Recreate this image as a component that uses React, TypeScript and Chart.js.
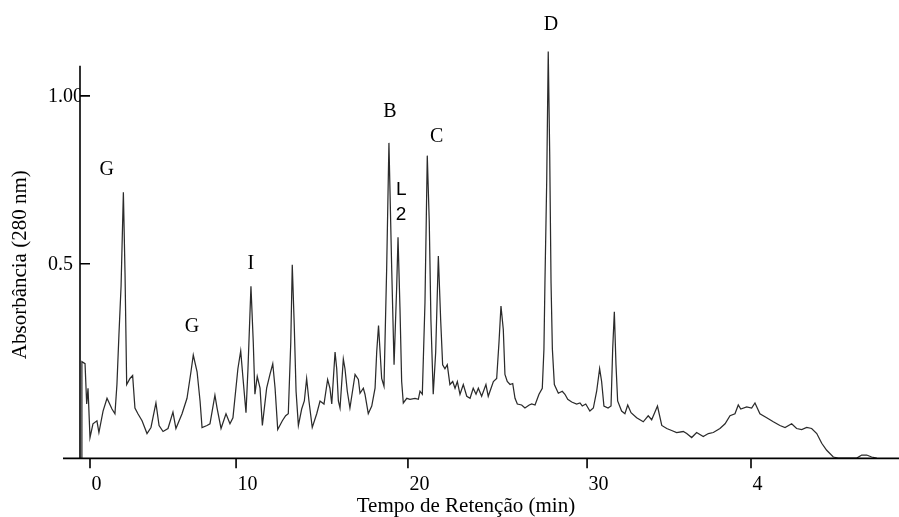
import React, { useEffect, useRef } from "react";
import { Chart, registerables } from "chart.js";

Chart.register(...registerables);

// Retention time (min) and absorbance (280 nm)
const retentionTime: number[] = [
  -0.50, -0.49, -0.30, -0.20, -0.12, 0.00, 0.18, 0.42, 0.54, 0.79,
  1.03, 1.33, 1.51, 1.63, 1.75, 1.88, 2.02, 2.12, 2.22, 2.42,
  2.58, 2.72, 2.90, 3.15, 3.45, 3.69, 3.99, 4.18, 4.42, 4.72,
  5.02, 5.20, 5.57, 5.87, 6.11, 6.25, 6.48, 6.66, 6.78, 7.08,
  7.26, 7.56, 7.69, 7.93, 8.23, 8.47, 8.65, 8.95, 9.12, 9.26,
  9.44, 9.56, 9.74, 9.88, 9.98, 10.12, 10.29, 10.43, 10.69, 10.89,
  11.06, 11.20, 11.36, 11.64, 11.84, 12.00, 12.15, 12.24, 12.36, 12.47,
  12.61, 12.81, 12.97, 13.11, 13.25, 13.45, 13.72, 13.92, 14.16, 14.38,
  14.52, 14.63, 14.83, 14.93, 15.03, 15.13, 15.33, 15.43, 15.57, 15.73,
  16.04, 16.24, 16.34, 16.54, 16.64, 16.84, 17.05, 17.25, 17.35, 17.46,
  17.65, 17.79, 17.95, 18.09, 18.26, 18.40, 18.56, 18.64, 18.76, 18.86,
  18.96, 19.17, 19.36, 19.67, 19.87, 19.97, 20.11, 20.27, 20.41, 20.53,
  20.63, 20.77, 20.92, 21.08, 21.22, 21.34, 21.48, 21.62, 21.78, 21.95,
  22.09, 22.23, 22.39, 22.59, 22.80, 23.00, 23.19, 23.36, 23.50, 23.70,
  23.96, 24.10, 24.41, 24.61, 24.75, 24.87, 25.01, 25.11, 25.25, 25.42,
  25.58, 25.72, 25.86, 26.12, 26.32, 26.58, 26.73, 26.93, 27.17, 27.37,
  27.47, 27.53, 27.64, 27.73, 27.82, 27.90, 27.98, 28.10, 28.34, 28.58,
  28.74, 28.91, 29.15, 29.45, 29.65, 29.79, 30.00, 30.25, 30.46, 30.66,
  30.84, 30.96, 31.10, 31.35, 31.53, 31.63, 31.73, 31.83, 31.93, 32.17,
  32.37, 32.54, 32.74, 33.08, 33.48, 33.78, 33.99, 34.34, 34.60, 34.90,
  35.20, 35.50, 35.90, 36.11, 36.41, 36.71, 37.11, 37.42, 37.72, 38.12,
  38.43, 38.73, 39.03, 39.23, 39.38, 39.74, 40.04, 40.24, 40.54, 40.95,
  41.35, 41.75, 42.06, 42.46, 42.76, 43.07, 43.37, 43.67, 43.98, 44.28,
  44.58, 44.98, 45.28, 46.40, 46.70, 47.00, 47.30, 47.61,
];

const absorbance: number[] = [
  -0.079, 0.208, 0.202, 0.082, 0.129, -0.018, 0.023, 0.032, -0.003, 0.061,
  0.099, 0.067, 0.053, 0.140, 0.287, 0.433, 0.713, 0.471, 0.140, 0.158,
  0.167, 0.070, 0.053, 0.032, -0.006, 0.012, 0.085, 0.018, 0.000, 0.009,
  0.058, 0.009, 0.053, 0.099, 0.178, 0.228, 0.178, 0.091, 0.012, 0.018,
  0.023, 0.108, 0.070, 0.009, 0.053, 0.023, 0.041, 0.187, 0.240, 0.158,
  0.056, 0.187, 0.433, 0.266, 0.111, 0.164, 0.129, 0.018, 0.129, 0.170,
  0.202, 0.129, 0.006, 0.032, 0.047, 0.053, 0.266, 0.497, 0.316, 0.120,
  0.018, 0.067, 0.091, 0.158, 0.091, 0.012, 0.053, 0.091, 0.082, 0.155,
  0.129, 0.082, 0.237, 0.187, 0.091, 0.070, 0.216, 0.187, 0.120, 0.070,
  0.170, 0.155, 0.114, 0.129, 0.111, 0.053, 0.076, 0.129, 0.237, 0.316,
  0.158, 0.135, 0.480, 0.860, 0.480, 0.199, 0.433, 0.579, 0.363, 0.149,
  0.085, 0.099, 0.096, 0.099, 0.096, 0.120, 0.111, 0.383, 0.822, 0.626,
  0.333, 0.111, 0.237, 0.523, 0.333, 0.199, 0.187, 0.199, 0.140, 0.149,
  0.129, 0.149, 0.111, 0.140, 0.105, 0.099, 0.129, 0.111, 0.129, 0.105,
  0.140, 0.105, 0.149, 0.158, 0.266, 0.374, 0.304, 0.170, 0.149, 0.140,
  0.143, 0.099, 0.082, 0.079, 0.070, 0.079, 0.082, 0.079, 0.111, 0.129,
  0.246, 0.442, 0.754, 1.132, 0.822, 0.442, 0.246, 0.140, 0.114, 0.120,
  0.111, 0.096, 0.088, 0.082, 0.085, 0.076, 0.082, 0.061, 0.070, 0.120,
  0.187, 0.149, 0.076, 0.070, 0.076, 0.246, 0.357, 0.199, 0.091, 0.061,
  0.053, 0.079, 0.056, 0.041, 0.029, 0.047, 0.035, 0.076, 0.018, 0.009,
  0.003, -0.003, 0.000, -0.006, -0.018, -0.003, -0.015, -0.006, -0.003, 0.009,
  0.023, 0.047, 0.053, 0.079, 0.067, 0.073, 0.070, 0.085, 0.053, 0.041,
  0.029, 0.018, 0.012, 0.023, 0.009, 0.006, 0.012, 0.009, -0.006, -0.035,
  -0.056, -0.076, -0.079, -0.079, -0.070, -0.070, -0.076, -0.079,
];

// Tick positions as they appear on the figure, with the labels printed there
const xTickValues: number[] = [0, 8.84, 19.24, 30.08, 40.0];
const xTickLabels: string[] = ["0", "10", "20", "30", "4"];
const yTickValues: number[] = [0.5, 1.0];
const yTickLabels: string[] = ["0.5", "1.00"];

// Peak labels: text, retention time, absorbance of the label centre
const peakNames: string[] = ["G", "G", "I", "B", "L", "2", "C", "D"];
const peakTimes: number[] = [1.01, 6.17, 9.74, 18.15, 18.84, 18.82, 20.98, 27.9];
const peakHeights: number[] = [0.779, 0.313, 0.499, 0.952, 0.72, 0.647, 0.878, 1.211];
const peakSans: boolean[] = [false, false, false, false, true, true, false, false];

const xTitle = "Tempo de Retenção (min)";
const yTitle = "Absorbância (280 nm)";

const X_MIN = -0.605;
const X_MAX = 48.956;
const Y_MIN = -0.08;
const Y_MAX = 1.25;
const Y_AXIS_TOP = 1.09;
const X_TITLE_AT = 22.75;
const Y_TITLE_AT = 0.497;

const SERIF = "'Liberation Serif', 'Times New Roman', serif";
const SANS = "'Liberation Sans', Arial, sans-serif";

const overlayPlugin = {
  id: "overlay",
  afterDatasetsDraw(chart: any) {
    const { ctx, chartArea, scales } = chart;
    const xs = scales.x;
    const ys = scales.y;
    const left = chartArea.left;
    const bottom = chartArea.bottom;
    ctx.save();
    ctx.strokeStyle = "#000";
    ctx.lineWidth = 1.6;
    ctx.beginPath();
    ctx.moveTo(left, ys.getPixelForValue(Y_AXIS_TOP));
    ctx.lineTo(left, bottom);
    ctx.moveTo(left - 17, bottom);
    ctx.lineTo(chartArea.right, bottom);
    yTickValues.forEach((v) => {
      const p = ys.getPixelForValue(v);
      ctx.moveTo(left, p);
      ctx.lineTo(left + 10, p);
    });
    xTickValues.forEach((v) => {
      const p = xs.getPixelForValue(v);
      ctx.moveTo(p, bottom);
      ctx.lineTo(p, bottom + 10);
    });
    ctx.stroke();

    ctx.fillStyle = "#000";
    ctx.textAlign = "center";
    ctx.textBaseline = "middle";
    peakNames.forEach((name, i) => {
      ctx.font = peakSans[i] ? `19px ${SANS}` : `20px ${SERIF}`;
      ctx.fillText(name, xs.getPixelForValue(peakTimes[i]), ys.getPixelForValue(peakHeights[i]));
    });

    ctx.font = `21px ${SERIF}`;
    ctx.fillText(xTitle, xs.getPixelForValue(X_TITLE_AT), bottom + 48);

    ctx.translate(20, ys.getPixelForValue(Y_TITLE_AT));
    ctx.rotate(-Math.PI / 2);
    ctx.fillText(yTitle, 0, 0);
    ctx.restore();
  },
};

export default function App() {
  const ref = useRef<HTMLCanvasElement | null>(null);

  useEffect(() => {
    if (!ref.current) return;
    const chart = new Chart(ref.current, {
      type: "line",
      data: {
        datasets: [
          {
            data: retentionTime.map((t, i) => ({ x: t, y: absorbance[i] })),
            borderColor: "#2b2b2b",
            borderWidth: 1.25,
            pointRadius: 0,
            tension: 0,
            fill: false,
          },
        ],
      },
      options: {
        animation: false,
        responsive: false,
        maintainAspectRatio: false,
        layout: { padding: { left: 48, top: 3.5, right: 0, bottom: 0 } },
        plugins: {
          legend: { display: false },
          tooltip: { enabled: false },
        },
        scales: {
          x: {
            type: "linear",
            min: X_MIN,
            max: X_MAX,
            grid: { display: false, drawTicks: false },
            border: { display: false },
            afterBuildTicks: (s: any) => {
              s.ticks = xTickValues.map((v) => ({ value: v }));
            },
            afterFit: (s: any) => {
              s.height = 58.64;
            },
            ticks: {
              autoSkip: false,
              maxRotation: 0,
              align: "start",
              labelOffset: 1.5,
              padding: 14,
              color: "#000",
              font: { family: SERIF, size: 20 },
              callback: (_v: any, i: number) => xTickLabels[i],
            },
          },
          y: {
            type: "linear",
            min: Y_MIN,
            max: Y_MAX,
            grid: { display: false, drawTicks: false },
            border: { display: false },
            afterBuildTicks: (s: any) => {
              s.ticks = yTickValues.map((v) => ({ value: v }));
            },
            afterFit: (s: any) => {
              s.width = 32;
            },
            ticks: {
              autoSkip: false,
              crossAlign: "far",
              labelOffset: 1,
              padding: 0,
              color: "#000",
              font: { family: SERIF, size: 20 },
              callback: (_v: any, i: number) => yTickLabels[i],
            },
          },
        },
      },
      plugins: [overlayPlugin],
    } as any);
    return () => chart.destroy();
  }, []);

  return (
    <div style={{ position: "fixed", left: 0, top: 0, width: 899, height: 517, background: "#fff" }}>
      <canvas ref={ref} width={899} height={517} style={{ display: "block" }} />
    </div>
  );
}
